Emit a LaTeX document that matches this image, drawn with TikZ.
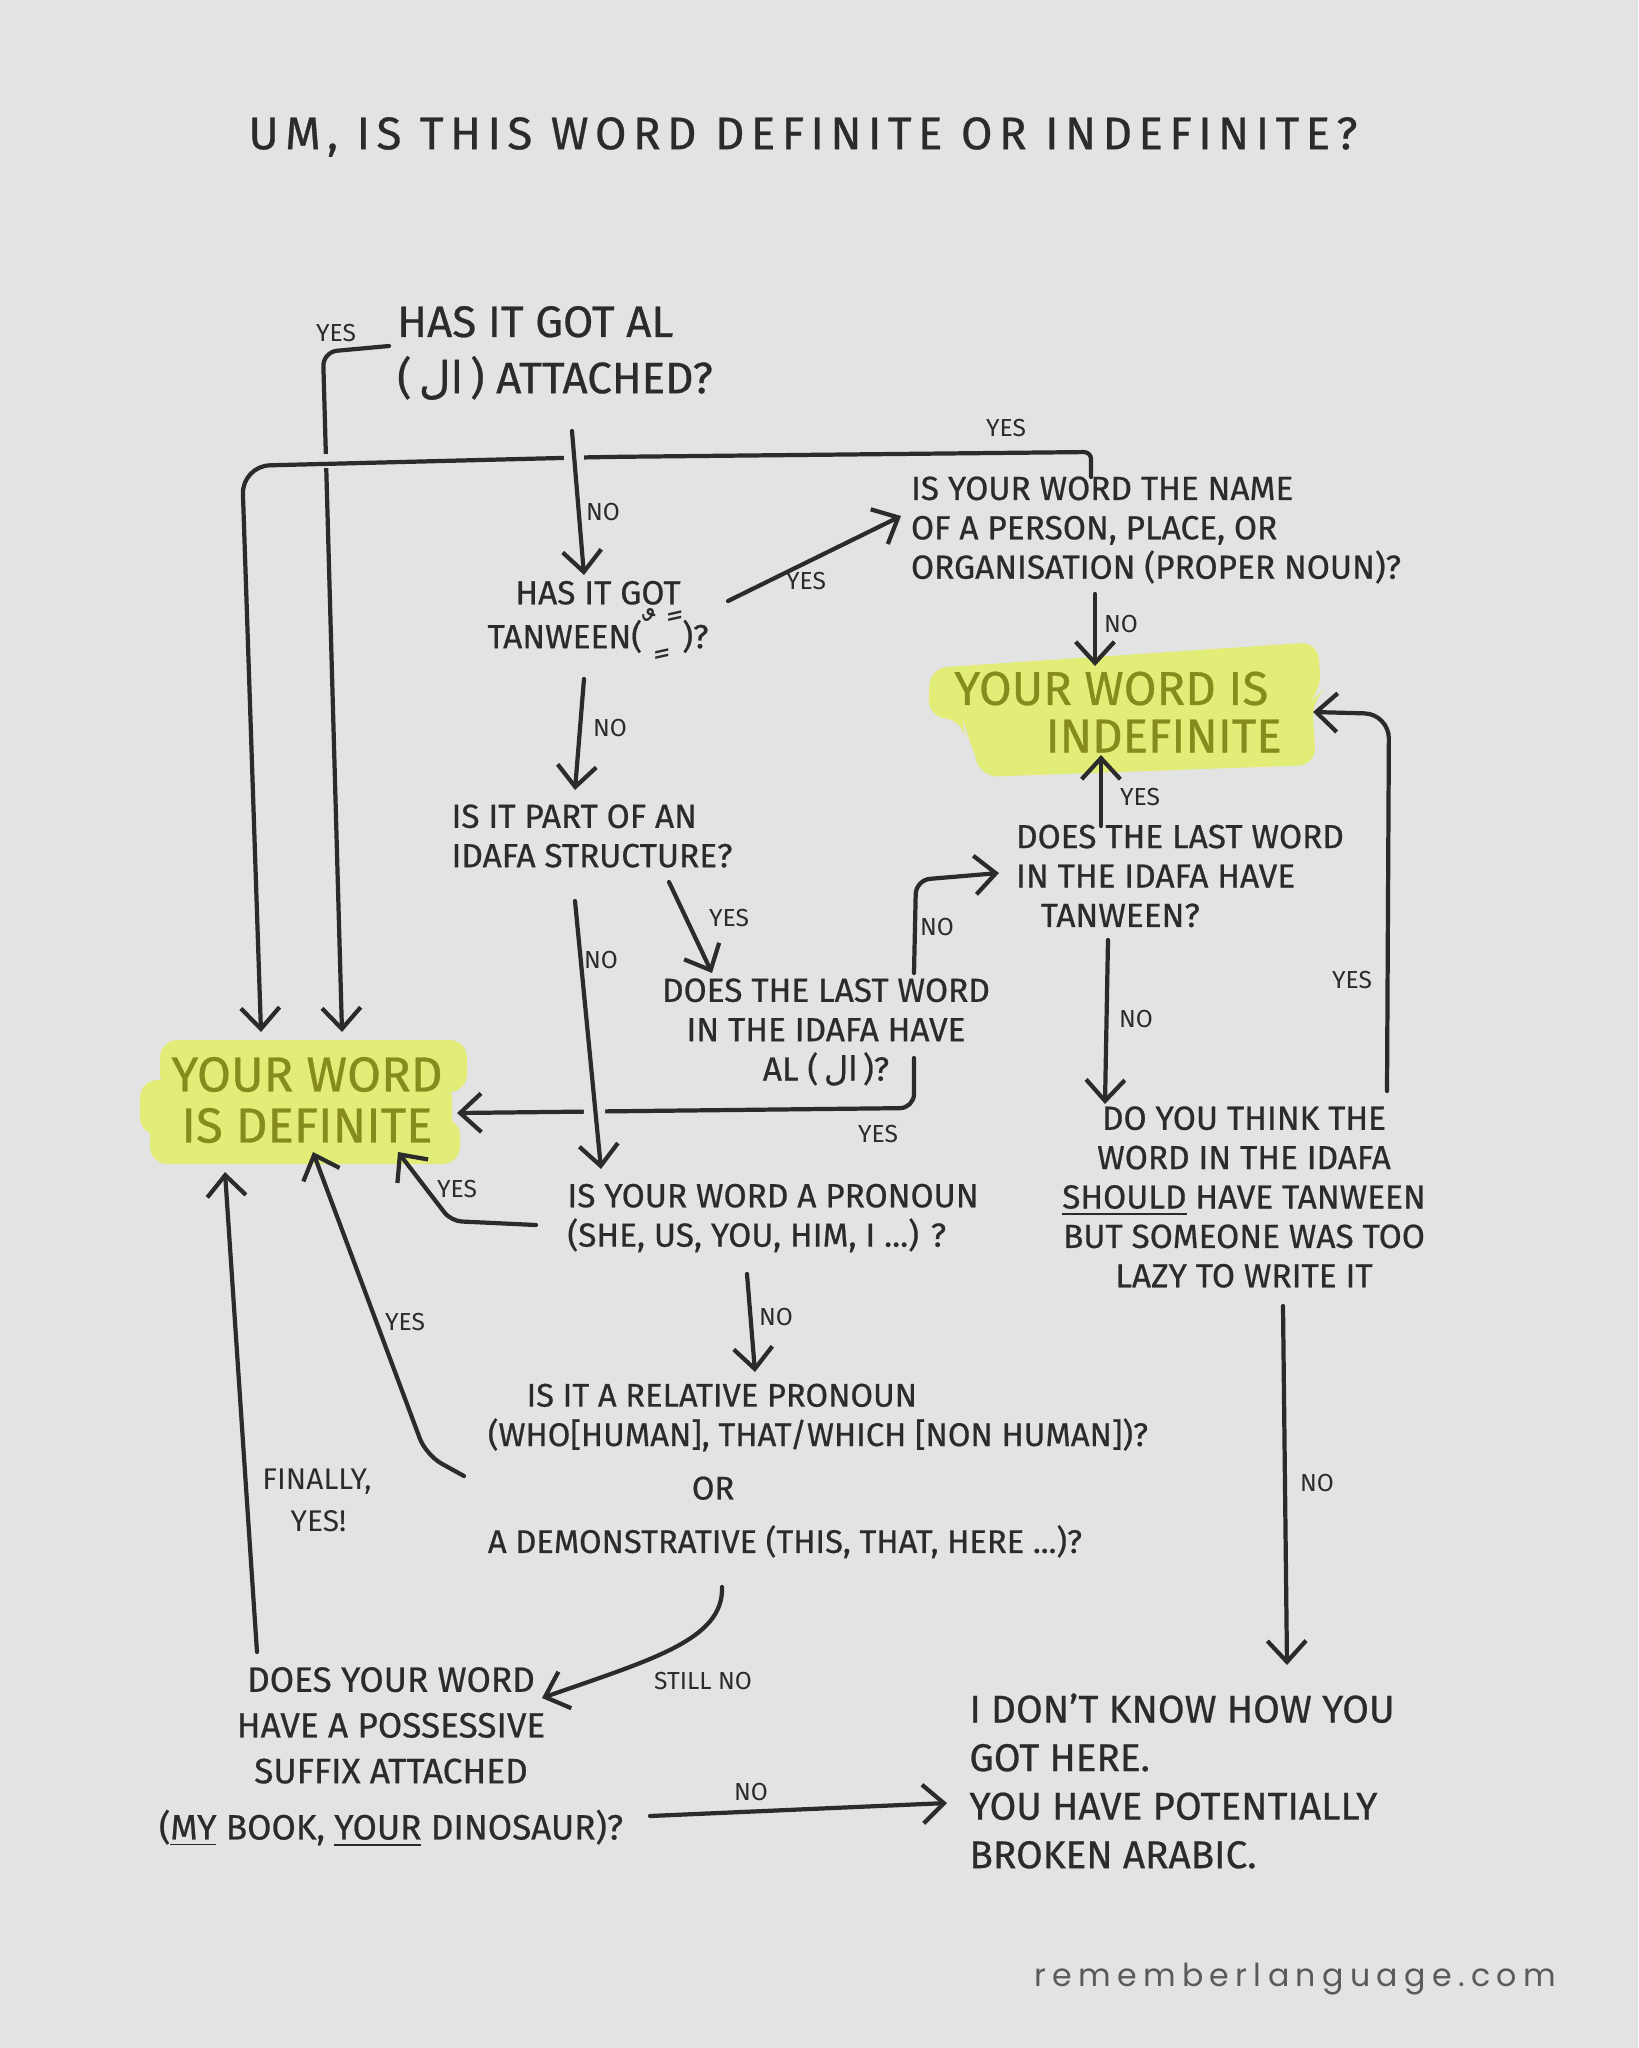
\documentclass[tikz,border=0pt]{standalone}
\usepackage{fontspec}
\setmainfont{Fira Sans}[FakeBold=0.6]
\newfontfamily\arabicfont[Script=Arabic,FakeBold=0.6]{DejaVu Sans}
\newfontfamily\djv{DejaVu Sans}
\newfontfamily\footfont[LetterSpace=20]{Poppins}
\newfontfamily\titlefont[LetterSpace=14,FakeBold=0.6]{Fira Sans}
\newfontfamily\lblfont{Fira Sans}
\TeXXeTstate=1
\usetikzlibrary{arrows.meta}
\definecolor{bg}{HTML}{E3E3E3}
\definecolor{ink}{HTML}{2B2B2B}
\definecolor{hl}{HTML}{E2ED78}
\definecolor{olive}{HTML}{868B1E}
\definecolor{footc}{HTML}{5A5A5A}
\newcommand\ALar{(\,{\arabicfont\beginR ال\endR}\,)}
\begin{document}
\begin{tikzpicture}[x=0.01cm,y=-0.01cm,
  txt/.style={font=\fontsize{9.5}{11.2}\selectfont,text=ink,inner sep=0pt,align=center},
  lbl/.style={font=\lblfont\fontsize{7}{8}\selectfont,text=ink,inner sep=0pt},
  con/.style={draw=ink,line width=1.2pt,line cap=round,line join=round},
  arr/.style={con,-{Straight Barb[length=6pt,width=11pt]}}]
\fill[bg] (0,0) rectangle (1638,2048);
\useasboundingbox (0,0) rectangle (1638,2048);

% highlights
\fill[hl,rounded corners=5pt] (160,1040) rectangle (467,1092);
\fill[hl,rounded corners=5pt] (140,1080) rectangle (452,1135);
\fill[hl,rounded corners=5pt] (150,1118) rectangle (460,1164);
\fill[hl,rounded corners=5pt] (930,668) -- (1318,642) -- (1321,692) -- (1312,700) -- (1316,765) -- (980,777) -- (973,745) -- (964,730) -- (963,720) -- (928,717) -- cycle;

% nodes
\node[txt,font=\titlefont\fontsize{13}{15}\selectfont] (title) at (803,137) {UM, IS THIS WORD DEFINITE OR INDEFINITE?};
\node[txt,align=left,font=\fontsize{12.5}{16}\selectfont] (n1) at (555,353) {HAS IT GOT AL\\\ALar{} ATTACHED?};
\node[txt] (n2) at (598,620) {HAS IT GOT\\TANWEEN({\djv\fontsize{13}{13}\selectfont ﹰﹴﹲ})?};
\node[txt,align=left] (prop) at (1156,530) {IS YOUR WORD THE NAME\\OF A PERSON, PLACE, OR\\ORGANISATION (PROPER NOUN)?};
\node[txt,align=left,text=olive,font=\fontsize{13.5}{13.5}\selectfont] (indef) at (1118,712) {YOUR WORD IS\\\hspace*{26pt}INDEFINITE};
\node[txt,align=left] (idafa) at (592,836) {IS IT PART OF AN\\IDAFA STRUCTURE?};
\node[txt] (lastal) at (826,1032) {DOES THE LAST WORD\\IN THE IDAFA HAVE\\AL \ALar?};
\node[txt,align=left] (lasttan) at (1180,876) {DOES THE LAST WORD\\IN THE IDAFA HAVE\\\hspace*{7pt}TANWEEN?};
\node[txt] (should) at (1244,1197) {DO YOU THINK THE\\WORD IN THE IDAFA\\\underline{SHOULD} HAVE TANWEEN\\BUT SOMEONE WAS TOO\\LAZY TO WRITE IT};
\node[txt,text=olive,font=\fontsize{14}{14.5}\selectfont] (def) at (307,1100) {YOUR WORD\\IS DEFINITE};
\node[txt,align=left] (pron) at (773,1218) {IS YOUR WORD A PRONOUN\\(SHE, US, YOU, HIM, I ...) ?};
\node[txt,align=left,font=\fontsize{9.3}{11.2}\selectfont] (rel) at (818,1471) {\hspace*{11pt}IS IT A RELATIVE PRONOUN\\(WHO[HUMAN], THAT/WHICH [NON HUMAN])?\\[4pt]\hspace*{58pt}OR\\[4pt]A DEMONSTRATIVE (THIS, THAT, HERE ...)?};
\node[txt,font=\fontsize{10}{13}\selectfont] (poss) at (391,1757) {DOES YOUR WORD\\HAVE A POSSESSIVE\\SUFFIX ATTACHED\\[3pt](\underline{MY} BOOK, \underline{YOUR} DINOSAUR)?};
\node[txt,align=left,font=\fontsize{11}{13.8}\selectfont] (dk) at (1182,1781) {I DON’T KNOW HOW YOU\\GOT HERE.\\YOU HAVE POTENTIALLY\\BROKEN ARABIC.};
\node[font=\footfont\fontsize{9}{10}\selectfont,text=footc,inner sep=0pt] (foot) at (1295,1979) {rememberlanguage.com};

% connectors
\draw[arr,rounded corners=4pt] ([shift={(-166,-7)}]n1.center) -- (323,352) -- ([shift={(35,-68)}]def.center);
\draw[draw=bg,line width=4pt] (314,461) -- (334,461);
\draw[arr] ([shift={(-65,-53)}]prop.center) [rounded corners=2pt] -- (1091,452) [rounded corners=8pt] -- (600,457) -- (242,466) -- ([shift={(-46,-68)}]def.center);
\draw[draw=bg,line width=5.5pt] (574,450) -- (574,468);
\draw[arr] ([shift={(17,78)}]n1.center) -- ([shift={(-14,-45)}]n2.center);
\draw[arr] ([shift={(130,-19)}]n2.center) -- ([shift={(-255,-14)}]prop.center);
\draw[arr] ([shift={(-61,64)}]prop.center) -- ([shift={(-23,-46)}]indef.center);
\draw[arr] ([shift={(-14,59)}]n2.center) -- ([shift={(-17,-46)}]idafa.center);
\draw[arr] ([shift={(77,46)}]idafa.center) -- ([shift={(-114,-59)}]lastal.center);
\draw[arr,rounded corners=4pt] ([shift={(88,26)}]lastal.center) -- (914,1108) -- ([shift={(150,13)}]def.center);
\draw[draw=bg,line width=6pt] (594,1100) -- (595,1120);
\draw[arr] ([shift={(-17,65)}]idafa.center) -- ([shift={(-172,-49)}]pron.center);
\draw[arr,rounded corners=4pt] ([shift={(88,-59)}]lastal.center) -- (916,880) -- ([shift={(-181,-3)}]lasttan.center);
\draw[arr] ([shift={(-79,-50)}]lasttan.center) -- ([shift={(-17,43)}]indef.center);
\draw[arr] ([shift={(-72,64)}]lasttan.center) -- ([shift={(-139,-93)}]should.center);
\draw[arr,rounded corners=7pt] ([shift={(143,-106)}]should.center) -- (1389,714) -- ([shift={(195,0)}]indef.center);
\draw[arr] ([shift={(39,109)}]should.center) -- ([shift={(105,-116)}]dk.center);
\draw[arr,rounded corners=3pt] ([shift={(-237,7)}]pron.center) -- (451,1221) -- ([shift={(91,52)}]def.center);
\draw[arr] ([shift={(-26,56)}]pron.center) -- ([shift={(-63,-99)}]rel.center);
\draw[arr,rounded corners=5pt] ([shift={(-354,5)}]rel.center) -- (426,1455) -- ([shift={(6,52)}]def.center);
\draw[arr] ([shift={(-96,116)}]rel.center) .. controls (724,1640) and (650,1660) .. ([shift={(151,-59)}]poss.center);
\draw[arr] ([shift={(-134,-105)}]poss.center) -- ([shift={(-82,72)}]def.center);
\draw[arr] ([shift={(259,59)}]poss.center) -- ([shift={(-235,22)}]dk.center);

% labels
\node[lbl] (l1) at (336,333) {YES};
\node[lbl] (l2) at (1006,428) {YES};
\node[lbl] (l3) at (603,512) {NO};
\node[lbl] (l4) at (806,581) {YES};
\node[lbl] (l5) at (1121,624) {NO};
\node[lbl] (l6) at (610,728) {NO};
\node[lbl] (l7) at (729,918) {YES};
\node[lbl] (l8) at (601,960) {NO};
\node[lbl] (l9) at (878,1134) {YES};
\node[lbl] (l10) at (937,927) {NO};
\node[lbl] (l11) at (1140,797) {YES};
\node[lbl] (l12) at (1136,1019) {NO};
\node[lbl] (l13) at (1352,980) {YES};
\node[lbl] (l14) at (1317,1483) {NO};
\node[lbl] (l15) at (457,1189) {YES};
\node[lbl] (l16) at (776,1317) {NO};
\node[lbl] (l17) at (405,1322) {YES};
\node[lbl] (l18) at (703,1681) {STILL NO};
\node[lbl,align=left,font=\lblfont\fontsize{8.5}{12}\selectfont] (l19) at (317,1500) {FINALLY,\\\hspace*{8pt}YES!};
\node[lbl] (l20) at (751,1792) {NO};
\end{tikzpicture}
\end{document}
